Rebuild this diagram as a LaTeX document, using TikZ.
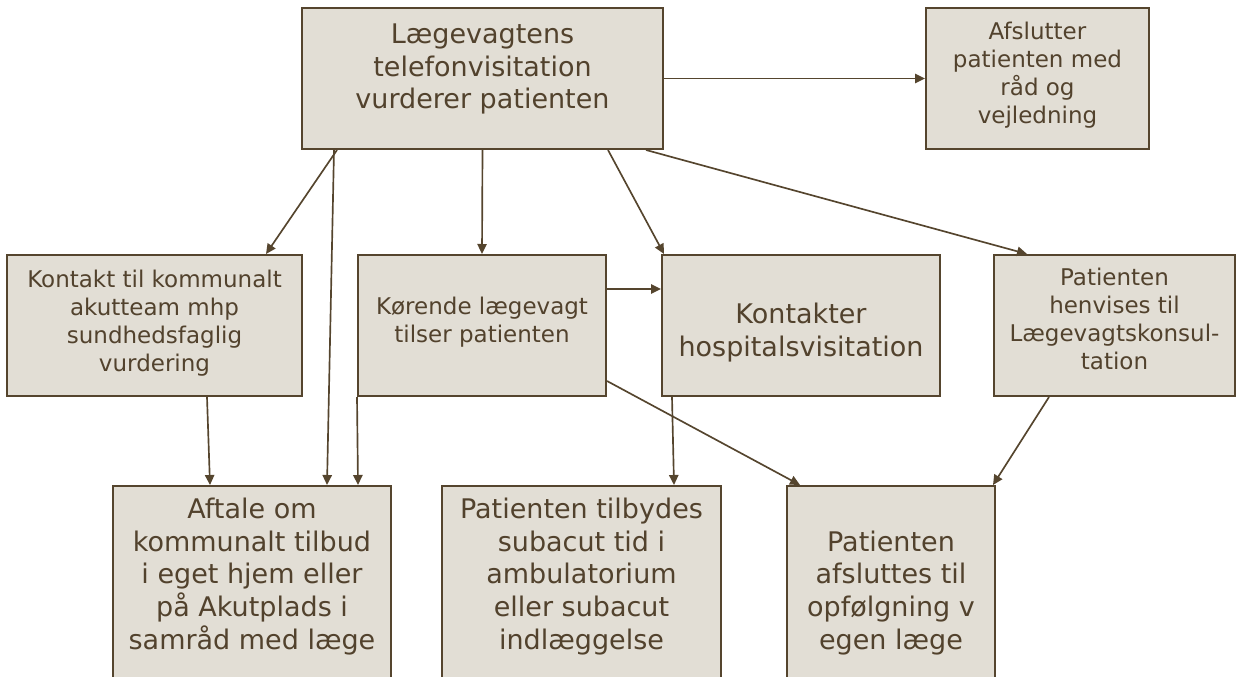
\documentclass[tikz,border=0pt]{standalone}
\usepackage{fontspec}
\setmainfont{DejaVu Sans}
\usepackage{xcolor}
\usetikzlibrary{arrows.meta, calc}

\definecolor{boxfill}{HTML}{E2DED5}
\definecolor{boxline}{HTML}{55452E}
\definecolor{boxtext}{HTML}{52422D}

\begin{document}
\begin{tikzpicture}[
  x=0.75pt, y=-0.75pt,
  box/.style={rectangle, draw=boxline, fill=boxfill, line width=1.5pt,
              minimum height=105.75pt, inner sep=0pt},
  tall/.style={box, minimum height=165pt},
  big/.style={align=center, text=boxtext, inner sep=0pt,
              font=\fontsize{20.25}{24.5}\selectfont},
  small/.style={align=center, text=boxtext, inner sep=0pt,
                font=\fontsize{17.25}{21}\selectfont},
  arr/.style={-{Triangle[length=7.5pt, width=7pt]}, line width=1.25pt, draw=boxline},
]
\useasboundingbox (0,0) rectangle (1237,677);
\clip (0,0) rectangle (1237,677);

% boxes
\node[box, minimum width=270.75pt] (T)  at (482.5,78.5)  {};
\node[box, minimum width=167.25pt] (A)  at (1037.5,78.5) {};
\node[box, minimum width=221.25pt] (K)  at (154.5,325.5) {};
\node[box, minimum width=186pt]    (KL) at (482,325.5)   {};
\node[box, minimum width=208.5pt]  (H)  at (801,325.5)   {};
\node[box, minimum width=180.75pt] (P)  at (1114.5,325.5) {};
\node[tall, minimum width=208.5pt]  (AF) at (252,596)   {};
\node[tall, minimum width=209.25pt] (S)  at (581.5,596) {};
\node[tall, minimum width=156pt]    (E)  at (891,596)   {};

% texts
\node[big]   (Tt)  at (482.5,69)   {Lægevagtens\\telefonvisitation\\vurderer patienten};
\node[small] (At)  at (1037.5,75.5) {Afslutter\\patienten med\\råd og\\vejledning};
\node[small] (Kt)  at (154.5,323)  {Kontakt til kommunalt\\akutteam mhp\\sundhedsfaglig\\vurdering};
\node[small] (KLt) at (482,322)    {Kørende lægevagt\\tilser patienten};
\node[big]   (Ht)  at (801,332.5)  {Kontakter\\hospitalsvisitation};
\node[small] (Pt)  at (1114.5,319) {Patienten\\henvises til\\Lægevagtskonsul-\\tation};
\node[big, anchor=south] (AFt) at (252,655)
  {Aftale om\\kommunalt tilbud\\i eget hjem eller\\på Akutplads i\\samråd med læge};
\node[big, anchor=south] (St)  at (581.5,655)
  {Patienten tilbydes\\subacut tid i\\ambulatorium\\eller subacut\\indlæggelse};
\node[big, anchor=south] (Et)  at (891,655)
  {Patienten\\afsluttes til\\opfølgning v\\egen læge};

% connectors
\draw[arr] (T.east) -- (A.west);
\draw[arr] ($(T.south west)+(36,0)$) -- ($(K.north east)+(-37,0)$);
\draw[arr] ($(T.south west)+(33,0)$) -- ($(AF.north west)+(215,0)$);
\draw[arr] (T.south) -- (KL.north);
\draw[arr] ($(T.south east)+(-56,0)$) -- ($(H.north west)+(3,0)$);
\draw[arr] ($(T.south east)+(-18,0)$) -- ($(P.north west)+(34,0)$);
\draw[arr] ($(K.south west)+(201,0)$) -- ($(AF.north west)+(98,0)$);
\draw[arr] (KL.south west) -- ($(AF.north west)+(246,0)$);
\draw[arr] ($(KL.north east)+(0,35)$) -- ($(H.north west)+(0,35)$);
\draw[arr] ($(KL.south east)+(0,-16)$) -- ($(E.north west)+(14,0)$);
\draw[arr] ($(H.south west)+(11,0)$) -- ($(S.north west)+(233,0)$);
\draw[arr] ($(P.south west)+(56,0)$) -- ($(E.north east)+(-3,0)$);
\end{tikzpicture}
\end{document}
